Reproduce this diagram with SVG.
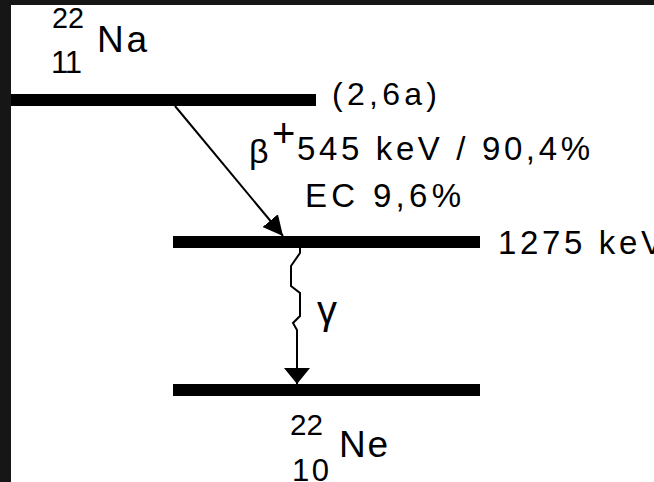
<svg xmlns="http://www.w3.org/2000/svg" width="654" height="482" viewBox="0 0 654 482">
<style>
.t{font-family:"Liberation Sans",Arial,sans-serif;fill:#000}
.lvl{fill:#000}
.con{fill:none;stroke:#000;stroke-width:2}
</style>
<defs>
<marker id="ah" markerUnits="userSpaceOnUse" markerWidth="24" markerHeight="24" refX="20" refY="10" orient="auto">
<path d="M0,0 L20,10 L0,20 Z" fill="#000"/>
</marker>
<marker id="ah2" markerUnits="userSpaceOnUse" markerWidth="24" markerHeight="28" refX="16" refY="13" orient="auto">
<path d="M0,0 L16,13 L0,26 Z" fill="#000"/>
</marker>
</defs>
<rect x="0" y="0" width="654" height="482" fill="#fff"/>
<rect x="0" y="0" width="11" height="482" fill="#161616"/>
<rect x="0" y="0" width="654" height="5" fill="#161616"/>

<g id="na22">
<rect class="lvl" x="11" y="94" width="305" height="12"/>
<text class="t" x="52" y="28" font-size="30" textLength="32" lengthAdjust="spacingAndGlyphs">22</text>
<text class="t" x="97" y="52" font-size="37" textLength="50" lengthAdjust="spacing">Na</text>
<text class="t" x="51" y="73" font-size="31" textLength="31" lengthAdjust="spacing">11</text>
<text class="t" x="332" y="105" font-size="32" textLength="105" lengthAdjust="spacing">(2,6a)</text>
</g>

<g id="ne22-excited">
<rect class="lvl" x="173" y="236" width="307" height="12"/>
<text class="t" x="498" y="254" font-size="33" textLength="165" lengthAdjust="spacing">1275 keV</text>
</g>

<g id="ne22">
<rect class="lvl" x="173" y="384" width="307" height="12"/>
<text class="t" x="290" y="435" font-size="30" textLength="33" lengthAdjust="spacingAndGlyphs">22</text>
<text class="t" x="339" y="457" font-size="37" textLength="49" lengthAdjust="spacing">Ne</text>
<text class="t" x="292" y="481" font-size="31" textLength="37" lengthAdjust="spacing">10</text>
</g>

<g id="connectors">
<line class="con" x1="175" y1="106" x2="283" y2="236" stroke-width="1.6" marker-end="url(#ah)"/>
<path class="con" d="M300,248 L300,253 L291,266 L291,286 L300,293 L300,316 L293,323 L297,330 L297,384" marker-end="url(#ah2)"/>
</g>

<g id="labels">
<text class="t" x="249" y="163" font-size="34">β</text>
<text class="t" x="272" y="147" font-size="40">+</text>
<text class="t" x="297" y="160" font-size="33" textLength="293" lengthAdjust="spacing">545 keV / 90,4%</text>
<text class="t" x="305" y="207" font-size="33" textLength="156" lengthAdjust="spacing">EC 9,6%</text>
<text class="t" x="317" y="324" font-size="40">γ</text>
</g>
</svg>
